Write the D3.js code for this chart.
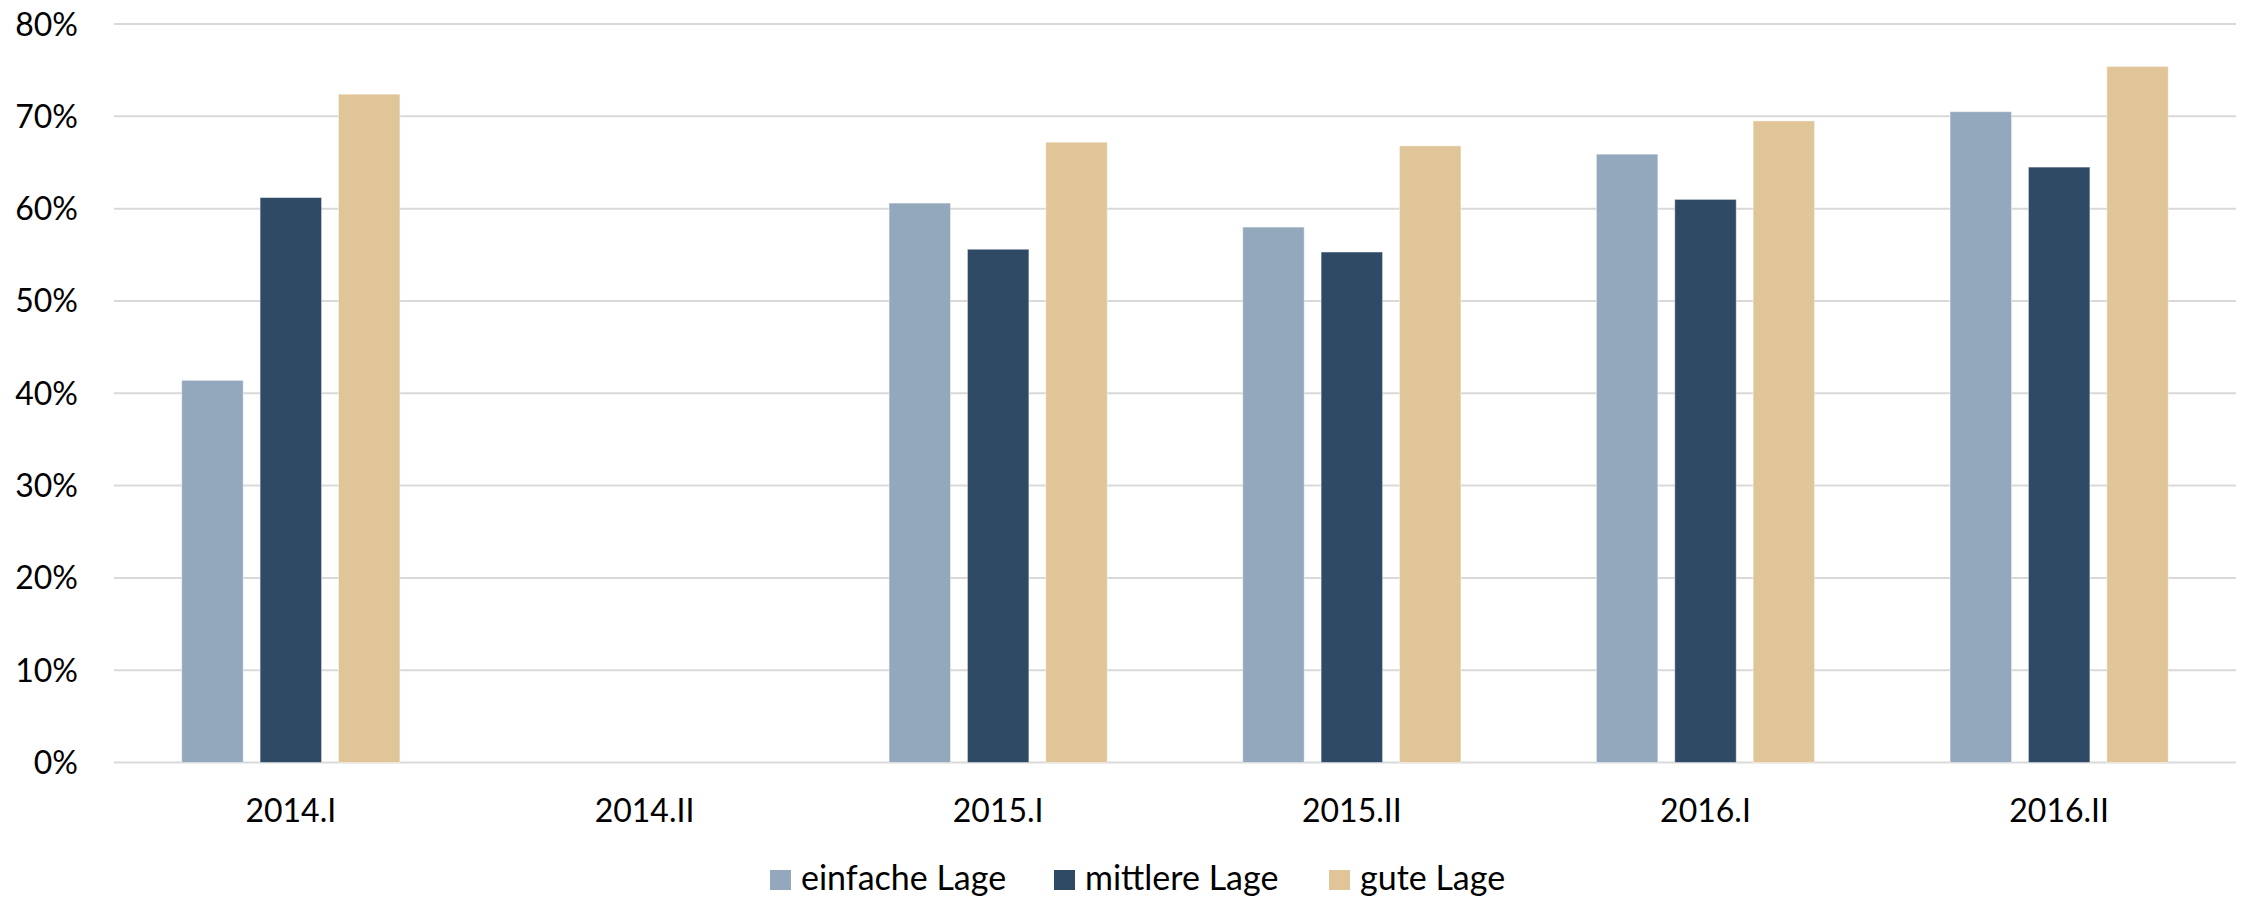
<!DOCTYPE html>
<html>
<head>
<meta charset="utf-8">
<script src="https://cdn.jsdelivr.net/npm/d3@7/dist/d3.min.js"></script>
<style>
  body { margin: 0; background: #fff; }
  text { font-family: Lato, "Open Sans", sans-serif; fill: #000; }
</style>
</head>
<body>
<svg id="chart" width="2246" height="897"></svg>
<script>
const categories = ["2014.I", "2014.II", "2015.I", "2015.II", "2016.I", "2016.II"];
const seriesNames = ["einfache Lage", "mittlere Lage", "gute Lage"];
const einfache = [41.4, null, 60.6, 58.0, 65.9, 70.5];
const mittlere = [61.2, null, 55.6, 55.3, 61.0, 64.5];
const gute = [72.4, null, 67.2, 66.8, 69.5, 75.4];
const yTicks = [0, 10, 20, 30, 40, 50, 60, 70, 80];
const colors = ["#93a8bc", "#2e4a64", "#e0c598"];

const seriesValues = [einfache, mittlere, gute];

const svg = d3.select("#chart");
const margin = { top: 24, right: 10, bottom: 134.5, left: 114 };
const width = +svg.attr("width") - margin.left - margin.right,
      height = +svg.attr("height") - margin.top - margin.bottom;

const g = svg.append("g").attr("transform", `translate(${margin.left},${margin.top})`);

const x0 = d3.scaleBand().domain(categories).range([0, width])
  .paddingInner(0.383).paddingOuter(0.383 / 2);
const x1 = d3.scaleBand().domain(seriesNames).range([0, x0.bandwidth()])
  .paddingInner(0.2156).paddingOuter(0);
const y = d3.scaleLinear().domain([0, 80]).range([height, 0]);

// gridlines
g.append("g")
  .selectAll("line")
  .data(yTicks)
  .enter().append("line")
  .attr("x1", 0)
  .attr("x2", width)
  .attr("y1", d => y(d))
  .attr("y2", d => y(d))
  .attr("stroke", "#d9d9d9")
  .attr("stroke-width", 2);

// y labels
g.append("g")
  .selectAll("text")
  .data(yTicks)
  .enter().append("text")
  .attr("x", -36)
  .attr("y", d => y(d))
  .attr("dy", "0.36em")
  .attr("text-anchor", "end")
  .attr("font-size", "32px")
  .text(d => d + "%");

// bars
const rows = [];
categories.forEach((c, i) => {
  seriesNames.forEach((s, j) => {
    if (seriesValues[j][i] != null) rows.push({ cat: c, series: s, value: seriesValues[j][i], idx: j });
  });
});

g.append("g")
  .selectAll("rect")
  .data(rows)
  .enter().append("rect")
  .attr("x", d => x0(d.cat) + x1(d.series))
  .attr("y", d => y(d.value))
  .attr("width", x1.bandwidth())
  .attr("height", d => y(0) - y(d.value))
  .attr("fill", d => colors[d.idx])
  .attr("stroke", "rgba(255,255,255,0.45)")
  .attr("stroke-width", 1);

// x labels
g.append("g")
  .selectAll("text")
  .data(categories)
  .enter().append("text")
  .attr("x", d => x0(d) + x0.bandwidth() / 2)
  .attr("y", height + 59)
  .attr("text-anchor", "middle")
  .attr("font-size", "32px")
  .text(d => d);

// legend
const legend = svg.append("g").attr("transform", "translate(0, 880)");
const legendX = [770, 1054, 1329];
seriesNames.forEach((s, j) => {
  legend.append("rect")
    .attr("x", legendX[j])
    .attr("y", -10)
    .attr("width", 21)
    .attr("height", 20)
    .attr("fill", colors[j]);
  legend.append("text")
    .attr("x", legendX[j] + 31)
    .attr("y", 10)
    .attr("font-size", "34px")
    .text(s);
});
</script>
</body>
</html>
